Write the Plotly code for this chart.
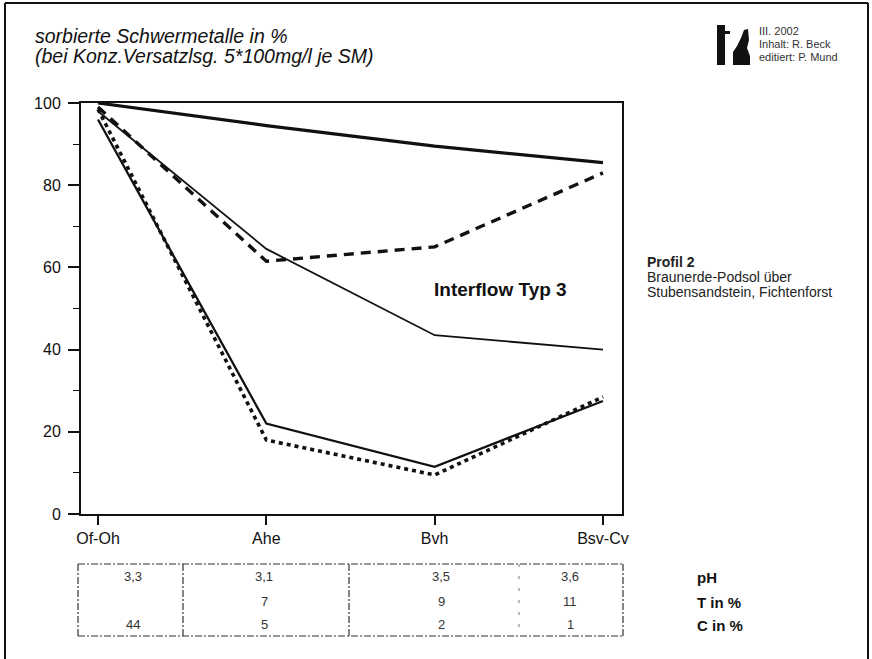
import plotly.graph_objects as go

# ---- data ----
horizons = ["Of-Oh", "Ahe", "Bvh", "Bsv-Cv"]
series_top_solid = [100, 94.5, 89.5, 85.5]
series_dashed = [99, 61.5, 65, 83]
series_mid_solid = [98, 64.5, 43.5, 40]
series_low_solid = [96, 22, 11.5, 27.5]
series_low_dotted = [98.5, 18, 9.5, 28.5]
y_ticks = [0, 20, 40, 60, 80, 100]

row_labels = ["pH", "T in %", "C in %"]
ph_vals = ["3,3", "3,1", "3,5", "3,6"]
t_vals = ["", "7", "9", "11"]
c_vals = ["44", "5", "2", "1"]

title_lines = ["sorbierte Schwermetalle in %", "(bei Konz.Versatzlsg. 5*100mg/l je SM)"]
profile_lines = ["<b>Profil 2</b>", "Braunerde-Podsol über", "Stubensandstein, Fichtenforst"]
logo_lines = ["III. 2002", "Inhalt: R. Beck", "editiert: P. Mund"]
inner_label = "<b>Interflow Typ 3</b>"

# ---- layout geometry (pixels) ----
W, H = 872, 659
PL, PR, PT, PB = 81, 622, 103, 514


def px(x):
    return (x - PL) / (PR - PL)


def py(y):
    return (PB - y) / (PB - PT)


FONT = "Liberation Sans, Arial, Helvetica, sans-serif"
INK = "#111111"

fig = go.Figure()
styles = [
    (series_top_solid, dict(width=3.2, dash="solid")),
    (series_dashed, dict(width=3.4, dash="10px,7px")),
    (series_mid_solid, dict(width=1.8, dash="solid")),
    (series_low_solid, dict(width=2.3, dash="solid")),
    (series_low_dotted, dict(width=3.6, dash="4px,4px")),
]
for vals, ln in styles:
    fig.add_trace(go.Scatter(x=horizons, y=vals, mode="lines",
                             line=dict(color=INK, **ln), showlegend=False,
                             hoverinfo="skip"))

shapes = []
annotations = []

# outer frame
for x0, y0, x1, y1 in [(5, 3, 868, 3), (5, 3, 5, 665), (868, 3, 868, 665)]:
    shapes.append(dict(type="line", xref="paper", yref="paper",
                       x0=px(x0), y0=py(y0), x1=px(x1), y1=py(y1),
                       line=dict(color=INK, width=2)))

# table frame
TT, TB, TLx, TRx = 564, 636, 78, 623
tab_line = dict(color="#333333", width=1.2, dash="7px,2px,2px,2px")
for x0, y0, x1, y1 in [(TLx, TT, TRx, TT), (TLx, TB, TRx, TB),
                       (TLx, TT, TLx, TB), (TRx, TT, TRx, TB),
                       (183, TT, 183, TB), (349, TT, 349, TB)]:
    shapes.append(dict(type="line", xref="paper", yref="paper",
                       x0=px(x0), y0=py(y0), x1=px(x1), y1=py(y1), line=tab_line))
shapes.append(dict(type="line", xref="paper", yref="paper",
                   x0=px(519), y0=py(TT), x1=px(519), y1=py(TB),
                   line=dict(color="#777777", width=1, dash="3px,9px")))

# table values
col_x = [133, 264, 441, 570]
row_y = [576, 601, 624]
for r, vals in enumerate([ph_vals, t_vals, c_vals]):
    for c, v in enumerate(vals):
        if v:
            annotations.append(dict(xref="paper", yref="paper", x=px(col_x[c]), y=py(row_y[r]),
                                    text=v, showarrow=False, xanchor="center", yanchor="middle",
                                    font=dict(family=FONT, size=13, color="#333333")))
for r, lab in enumerate(row_labels):
    annotations.append(dict(xref="paper", yref="paper", x=px(695), y=py(row_y[r] + 1),
                            text="<b>" + lab + "</b>", showarrow=False, xanchor="left", yanchor="middle",
                            font=dict(family=FONT, size=15, color=INK)))

# title
for i, t in enumerate(title_lines):
    annotations.append(dict(xref="paper", yref="paper", x=px(33), y=py(36 + 20 * i),
                            text="<i>" + t + "</i>", showarrow=False, xanchor="left", yanchor="middle",
                            font=dict(family=FONT, size=19.5, color=INK)))

# profile description
for i, t in enumerate(profile_lines):
    annotations.append(dict(xref="paper", yref="paper", x=px(645), y=py(262 + 15 * i),
                            text=t, showarrow=False, xanchor="left", yanchor="middle",
                            font=dict(family=FONT, size=14, color="#222222")))

# inner label
annotations.append(dict(xref="paper", yref="paper", x=px(500), y=py(289),
                        text=inner_label, showarrow=False, xanchor="center", yanchor="middle",
                        font=dict(family=FONT, size=19, color=INK)))

# logo text
for i, t in enumerate(logo_lines):
    annotations.append(dict(xref="paper", yref="paper", x=px(757), y=py(31 + 13 * i),
                            text=t, showarrow=False, xanchor="left", yanchor="middle",
                            font=dict(family=FONT, size=11, color="#333333")))

# logo graphic (decorative)
shapes.append(dict(type="rect", xref="paper", yref="paper",
                   x0=px(717), x1=px(725), y0=py(25), y1=py(65),
                   fillcolor=INK, line=dict(width=0)))
shapes.append(dict(type="rect", xref="paper", yref="paper",
                   x0=px(725), x1=px(730), y0=py(31), y1=py(34),
                   fillcolor=INK, line=dict(width=0)))
fig_pts = [(733, 65), (733, 52), (737, 46), (741, 38), (744, 30), (748, 29),
           (749, 40), (747, 48), (750, 56), (750, 65)]
path = "M " + " L ".join(f"{px(a):.5f},{py(b):.5f}" for a, b in fig_pts) + " Z"
shapes.append(dict(type="path", xref="paper", yref="paper", path=path,
                   fillcolor=INK, line=dict(width=0)))

fig.update_layout(
    width=W, height=H,
    margin=dict(l=PL, r=W - PR, t=PT, b=H - PB, pad=0),
    paper_bgcolor="white", plot_bgcolor="white",
    showlegend=False,
    shapes=shapes, annotations=annotations,
    font=dict(family=FONT, color=INK),
    xaxis=dict(type="category", categoryorder="array", categoryarray=horizons,
               range=[-0.101, 3.113], showgrid=False, zeroline=False,
               showline=True, linecolor=INK, linewidth=2, mirror=True,
               ticks="outside", ticklen=9, tickwidth=1.5, tickcolor=INK,
               tickfont=dict(family=FONT, size=16, color=INK)),
    yaxis=dict(range=[0, 100], tickvals=y_ticks, showgrid=False, zeroline=False,
               showline=True, linecolor=INK, linewidth=2, mirror=True,
               ticks="outside", ticklen=11, tickwidth=1.5, tickcolor=INK,
               ticklabelstandoff=4,
               minor=dict(dtick=10, ticks="outside", ticklen=6, tickwidth=1.2,
                          tickcolor=INK, showgrid=False),
               tickfont=dict(family=FONT, size=16, color=INK)),
)

fig.write_html("out.html", config={"displayModeBar": False},
               post_script="document.body.style.margin='0';document.body.style.overflow='hidden';")
